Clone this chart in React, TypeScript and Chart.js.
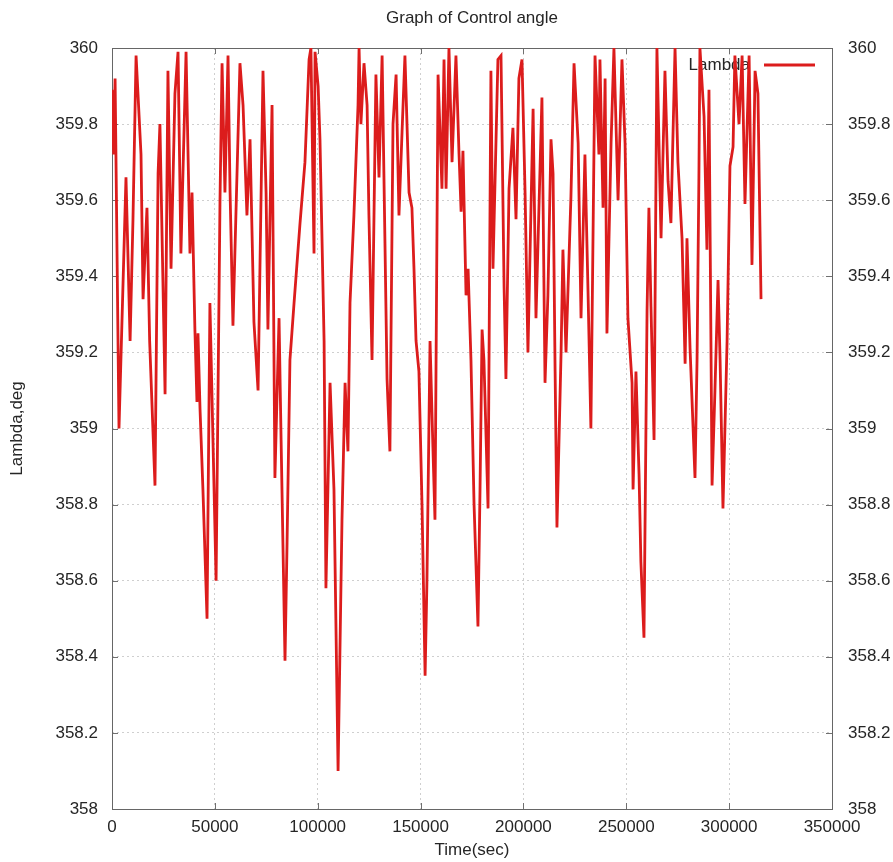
import React, { useEffect, useRef } from "react";
import { Chart, registerables } from "chart.js";

Chart.register(...registerables);

const chartTitle = "Graph of Control angle";
const xAxisTitle = "Time(sec)";
const yAxisTitle = "Lambda,deg";
const seriesLabel = "Lambda";

const xTickValues = [0, 50000, 100000, 150000, 200000, 250000, 300000, 350000];
const yTickValues = [358, 358.2, 358.4, 358.6, 358.8, 359, 359.2, 359.4, 359.6, 359.8, 360];

const timeSec = [
  0, 800, 1500, 3400, 6800, 8800, 10200, 11700, 14100, 15100,
  17000, 18300, 20900, 22400, 23300, 25800, 27200, 28700, 30600, 32100,
  33500, 36000, 37900, 38900, 40300, 41300, 41800, 42800, 44200, 46200,
  47600, 50600, 52500, 53500, 54900, 56400, 57400, 58800, 62200, 63700,
  65600, 67100, 69000, 71000, 73400, 74900, 75800, 77800, 79200, 81200,
  82200, 84100, 85100, 86500, 88500, 91400, 93800, 95800, 96700, 98200,
  98700, 100200, 101100, 103100, 104000, 106000, 107900, 109900, 111800, 113300,
  114700, 115700, 117600, 119600, 120100, 121000, 122500, 124000, 124900, 126400,
  128300, 129800, 131300, 133700, 135100, 136600, 138100, 139500, 141000, 142400,
  144400, 145800, 146800, 147800, 149200, 150700, 152200, 153100, 154600, 156000,
  157000, 158500, 160400, 161400, 162400, 163800, 165300, 167200, 168700, 169700,
  170600, 172100, 173100, 174500, 176000, 177900, 178900, 179900, 180800, 182800,
  184200, 185200, 187600, 189100, 190600, 191500, 193000, 194900, 196400, 197800,
  199300, 200800, 202200, 204700, 206100, 209000, 210500, 211900, 213400, 214400,
  215400, 216300, 218300, 219200, 220700, 223100, 224600, 226600, 228000, 229900,
  231400, 232800, 234800, 236700, 237200, 238700, 239700, 240600, 242600, 244000,
  246000, 247900, 249400, 250800, 252800, 253300, 254700, 256200, 257100, 258600,
  260100, 261000, 262000, 263500, 264900, 266900, 268800, 270300, 271700, 273700,
  275100, 277100, 278600, 279500, 281000, 283400, 284400, 285300, 285800, 287800,
  289200, 290200, 291700, 293100, 294600, 295600, 297000, 299000, 300400, 301900,
  302800, 304800, 306300, 307700, 309700, 311100, 312600, 314000, 315500,
];

const lambdaDeg = [
  359.89, 359.72, 359.92, 359.0, 359.66, 359.23, 359.55, 359.98, 359.72, 359.34,
  359.58, 359.23, 358.85, 359.67, 359.8, 359.09, 359.94, 359.42, 359.88, 359.99,
  359.46, 359.99, 359.46, 359.62, 359.26, 359.07, 359.25, 359.05, 358.84, 358.5,
  359.33, 358.6, 359.6, 359.96, 359.62, 359.98, 359.62, 359.27, 359.96, 359.85,
  359.56, 359.76, 359.28, 359.1, 359.94, 359.62, 359.26, 359.85, 358.87, 359.29,
  358.97, 358.39, 358.7, 359.18, 359.33, 359.54, 359.7, 359.97, 360.0, 359.46,
  359.99, 359.9, 359.76, 359.23, 358.58, 359.12, 358.84, 358.1, 358.76, 359.12,
  358.94, 359.33, 359.56, 359.85, 360.0, 359.8, 359.96, 359.85, 359.56, 359.18,
  359.93, 359.66, 359.98, 359.13, 358.94, 359.8, 359.93, 359.56, 359.78, 359.98,
  359.62, 359.58, 359.42, 359.23, 359.15, 358.8, 358.35, 358.6, 359.23, 358.95,
  358.76, 359.93, 359.63, 359.97, 359.63, 360.0, 359.7, 359.98, 359.72, 359.57,
  359.73, 359.35, 359.42, 359.18, 358.8, 358.48, 358.84, 359.26, 359.18, 358.79,
  359.94, 359.42, 359.97, 359.98, 359.37, 359.13, 359.63, 359.79, 359.55, 359.92,
  359.97, 359.62, 359.2, 359.84, 359.29, 359.87, 359.12, 359.35, 359.76, 359.67,
  359.15, 358.74, 359.2, 359.47, 359.2, 359.61, 359.96, 359.75, 359.29, 359.72,
  359.36, 359.0, 359.98, 359.72, 359.97, 359.58, 359.92, 359.25, 359.75, 360.0,
  359.6, 359.97, 359.75, 359.29, 359.12, 358.84, 359.15, 358.88, 358.65, 358.45,
  359.31, 359.58, 359.32, 358.97, 360.0, 359.5, 359.94, 359.65, 359.54, 360.0,
  359.7, 359.5, 359.17, 359.5, 359.21, 358.87, 359.18, 359.66, 360.0, 359.82,
  359.47, 359.89, 358.85, 359.1, 359.39, 359.18, 358.79, 359.23, 359.69, 359.74,
  359.98, 359.8, 359.98, 359.59, 359.98, 359.43, 359.94, 359.88, 359.34,
];

const FONT_FAMILY = "'Liberation Sans', Arial, Helvetica, sans-serif";
const TEXT_COLOR = "#262626";
const LINE_COLOR = "rgb(220, 28, 28)";

export default function App() {
  const canvasRef = useRef<HTMLCanvasElement | null>(null);

  useEffect(() => {
    const canvas = canvasRef.current;
    if (!canvas) return;
    const font = { family: FONT_FAMILY, size: 17, weight: "normal" as const };

    const framePlugin = {
      id: "gnuplotFrame",
      beforeDatasetsDraw(chart: any) {
        const { ctx, chartArea: a, scales } = chart;
        ctx.save();
        // key (legend) inside plot, top right
        const ky = a.top + 17;
        ctx.font = `17px ${FONT_FAMILY}`;
        ctx.fillStyle = TEXT_COLOR;
        ctx.textAlign = "right";
        ctx.textBaseline = "middle";
        ctx.fillText(seriesLabel, a.right - 82, ky);
        ctx.strokeStyle = LINE_COLOR;
        ctx.lineWidth = 2.8;
        ctx.beginPath();
        ctx.moveTo(a.right - 68, ky);
        ctx.lineTo(a.right - 17, ky);
        ctx.stroke();

        // inward ticks
        ctx.strokeStyle = "#707070";
        ctx.lineWidth = 1;
        ctx.beginPath();
        xTickValues.forEach((v) => {
          const px = Math.round(scales.x.getPixelForValue(v)) + 0.5;
          ctx.moveTo(px, a.bottom);
          ctx.lineTo(px, a.bottom - 6);
          ctx.moveTo(px, a.top);
          ctx.lineTo(px, a.top + 6);
        });
        yTickValues.forEach((v) => {
          const py = Math.round(scales.y.getPixelForValue(v)) + 0.5;
          ctx.moveTo(a.left, py);
          ctx.lineTo(a.left + 6, py);
          ctx.moveTo(a.right, py);
          ctx.lineTo(a.right - 6, py);
        });
        ctx.stroke();
        // frame
        ctx.strokeStyle = "#666666";
        ctx.strokeRect(
          Math.round(a.left) + 0.5,
          Math.round(a.top) + 0.5,
          Math.round(a.right - a.left),
          Math.round(a.bottom - a.top)
        );
        ctx.restore();
      },
    };

    const points = timeSec.map((t, i) => ({ x: t, y: lambdaDeg[i] }));

    const chart = new Chart(canvas, {
      type: "line",
      data: {
        datasets: [
          {
            label: seriesLabel,
            data: points,
            borderColor: LINE_COLOR,
            backgroundColor: LINE_COLOR,
            borderWidth: 2.8,
            pointRadius: 0,
            tension: 0,
            fill: false,
            yAxisID: "y",
          },
        ],
      },
      options: {
        animation: false,
        responsive: false,
        devicePixelRatio: 1,
        layout: { padding: 0 },
        plugins: {
          legend: { display: false },
          tooltip: { enabled: false },
          title: {
            display: true,
            text: chartTitle,
            color: TEXT_COLOR,
            font,
            fullSize: false,
            padding: { top: 8, bottom: 19.6 },
          },
        },
        scales: {
          x: {
            type: "linear",
            position: "bottom",
            min: 0,
            max: 350000,
            afterBuildTicks: (axis: any) => {
              axis.ticks = xTickValues.map((v) => ({ value: v }));
            },
            afterFit: (s: any) => {
              s.height = 53;
            },
            ticks: {
              color: TEXT_COLOR,
              font,
              padding: 8,
              maxRotation: 0,
              autoSkip: false,
              callback: (v: any) => String(v),
            },
            grid: { color: "#cfcfcf", drawTicks: false, lineWidth: 1 },
            border: { display: false, dash: [2, 3] },
            title: {
              display: true,
              text: xAxisTitle,
              color: TEXT_COLOR,
              font,
              padding: { top: 0, bottom: 1 },
            },
          },
          y: {
            type: "linear",
            position: "left",
            min: 358,
            max: 360,
            afterBuildTicks: (axis: any) => {
              axis.ticks = yTickValues.map((v) => ({ value: v }));
            },
            afterFit: (s: any) => {
              s.width = 112;
            },
            ticks: {
              color: TEXT_COLOR,
              font,
              padding: 14,
              callback: (v: any) => String(Math.round(Number(v) * 10) / 10),
            },
            grid: { color: "#cfcfcf", drawTicks: false, lineWidth: 1 },
            border: { display: false, dash: [2, 3] },
            title: {
              display: true,
              text: yAxisTitle,
              color: TEXT_COLOR,
              font,
              padding: { top: 7, bottom: 0 },
            },
          },
          y2: {
            type: "linear",
            position: "right",
            min: 358,
            max: 360,
            afterBuildTicks: (axis: any) => {
              axis.ticks = yTickValues.map((v) => ({ value: v }));
            },
            afterFit: (s: any) => {
              s.width = 61;
            },
            ticks: {
              color: TEXT_COLOR,
              font,
              padding: 16,
              callback: (v: any) => String(Math.round(Number(v) * 10) / 10),
            },
            grid: { display: false, drawTicks: false },
            border: { display: false },
          },
        },
      },
      plugins: [framePlugin],
    });

    return () => {
      chart.destroy();
    };
  }, []);

  return (
    <div
      style={{
        position: "fixed",
        left: 0,
        top: 0,
        width: 893,
        height: 862,
        background: "#ffffff",
      }}
    >
      <canvas ref={canvasRef} width={893} height={862} style={{ display: "block" }} />
    </div>
  );
}
